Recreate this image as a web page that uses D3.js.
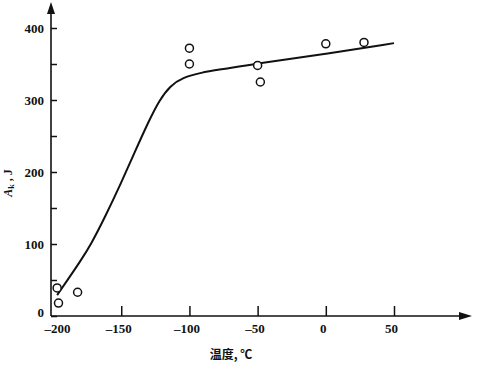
<!DOCTYPE html>
<html>
<head>
<meta charset="utf-8">
<script src="https://cdn.jsdelivr.net/npm/d3@7"></script>
<style>
  body { margin: 0; background: #fff; }
  svg text { font-family: "Liberation Serif", "Times New Roman", Times, serif; font-weight: bold; }
</style>
</head>
<body>
<script>
const width = 480;
const height = 366;

// measured points: temperature (°C) and impact energy Ak (J)
const pointTemps = [-197, -196, -182, -100, -100, -50, -48, 0, 28];
const pointValues = [39, 18, 33, 372, 350, 348, 325, 378, 380];

// fitted curve
const curveTemps = [-197, -189, -180, -172, -162, -150, -140, -130, -122, -114, -105, -92, -75, -50, 0, 50];
const curveValues = [29, 51, 76, 100, 137, 185, 228, 270, 300, 320, 331, 338, 343, 351, 364, 379];

const xTicks = [-200, -150, -100, -50, 0, 50];
const yTicks = [0, 50, 100, 150, 200, 250, 300, 350, 400];

const serif = "'Liberation Serif', 'Times New Roman', Times, serif";

const svg = d3
  .select("body")
  .append("svg")
  .attr("width", width)
  .attr("height", height);

const x = d3.scaleLinear().domain([-201.5, 50]).range([51, 394]);
const y = d3.scaleLinear().domain([0, 400]).range([316, 28]);

const x0 = x(-201.5);
const y0 = y(0);

// y axis, ticks pointing inward
const yAxis = svg
  .append("g")
  .attr("transform", `translate(${x0},0)`)
  .call(
    d3
      .axisLeft(y)
      .tickValues(yTicks)
      .tickSize(-6)
      .tickPadding(7)
      .tickFormat((d) => (d % 100 === 0 ? d : ""))
  )
  .attr("font-family", serif)
  .attr("font-size", 13);
yAxis.select(".domain").remove();
yAxis.selectAll(".tick line").attr("stroke", "#111").attr("stroke-width", 1.5);
yAxis.selectAll(".tick text")
  .attr("fill", "#111")
  .attr("dy", (d) => (d === 0 ? "0.05em" : "0.32em"));

// x axis
const xAxis = svg
  .append("g")
  .attr("transform", `translate(0,${y0})`)
  .call(
    d3
      .axisBottom(x)
      .tickValues(xTicks)
      .tickSize(-10)
      .tickPadding(8)
      .tickFormat((d) => (d < 0 ? "–" + Math.abs(d) : d))
  )
  .attr("font-family", serif)
  .attr("font-size", 13);
xAxis.select(".domain").remove();
xAxis.selectAll(".tick line")
  .attr("stroke", "#111")
  .attr("stroke-width", 1.5)
  .attr("display", (d) => (d === -200 ? "none" : null));
xAxis.selectAll(".tick text")
  .attr("fill", "#111")
  .attr("dx", (d) => (d === -200 ? 4 : -3));

// axis lines with arrows
svg.append("line")
  .attr("x1", x0).attr("y1", y0).attr("x2", x0).attr("y2", 8)
  .attr("stroke", "#111").attr("stroke-width", 1.6);
svg.append("path")
  .attr("d", `M${x0},2 L${x0 - 4},14 L${x0 + 4},14 Z`)
  .attr("fill", "#111");

svg.append("line")
  .attr("x1", x0).attr("y1", y0).attr("x2", 464).attr("y2", y0)
  .attr("stroke", "#111").attr("stroke-width", 1.6);
svg.append("path")
  .attr("d", `M472,${y0} L459,${y0 - 4} L459,${y0 + 4} Z`)
  .attr("fill", "#111");

// curve
const line = d3
  .line()
  .x((d, i) => x(curveTemps[i]))
  .y((d, i) => y(curveValues[i]))
  .curve(d3.curveBasis);

svg.append("path")
  .datum(curveValues)
  .attr("d", line)
  .attr("fill", "none")
  .attr("stroke", "#111")
  .attr("stroke-width", 2);

// points
svg.selectAll(".pt")
  .data(pointValues)
  .join("circle")
  .attr("class", "pt")
  .attr("cx", (d, i) => x(pointTemps[i]))
  .attr("cy", (d) => y(d))
  .attr("r", 4)
  .attr("fill", "#fff")
  .attr("stroke", "#111")
  .attr("stroke-width", 1.5);

// axis titles
const yLabel = svg.append("text")
  .attr("transform", "translate(12,183) rotate(-90)")
  .attr("text-anchor", "middle")
  .attr("font-size", 12)
  .attr("fill", "#111");
yLabel.append("tspan").text("A").style("font-style", "italic");
yLabel.append("tspan").text("k").attr("font-size", 8).attr("dy", 2);
yLabel.append("tspan").text(" ,  J").attr("dy", -2);

svg.append("text")
  .attr("x", 231)
  .attr("y", 359)
  .attr("text-anchor", "middle")
  .attr("font-size", 12)
  .attr("fill", "#111")
  .style("font-family", "'Noto Sans CJK SC', 'Liberation Serif'")
  .text("温度, ℃");
</script>
</body>
</html>
